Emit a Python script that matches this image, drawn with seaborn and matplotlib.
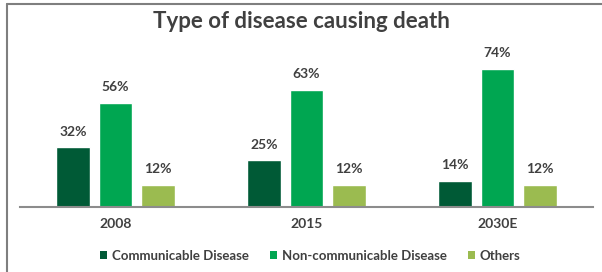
import matplotlib
matplotlib.use('Agg')
import matplotlib.pyplot as plt
from matplotlib.lines import Line2D
from matplotlib.patches import Patch
import seaborn as sns
import pandas as pd

years = ['2008', '2015', '2030E']
diseases = ['Communicable Disease', 'Non-communicable Disease', 'Others']
communicable = [32, 25, 14]
non_communicable = [56, 63, 74]
others = [12, 12, 12]
colors = ['#005A36', '#00A651', '#9BBB50']

df = pd.DataFrame({
    'year': years * 3,
    'disease': [diseases[0]] * 3 + [diseases[1]] * 3 + [diseases[2]] * 3,
    'share': communicable + non_communicable + others,
})

sns.set_style('white')
plt.rcParams['font.family'] = ['Lato', 'DejaVu Sans']
text_color = '#404040'

fig = plt.figure(figsize=(6.02, 2.72), dpi=100)
ax = fig.add_axes([20 / 602, 1 - 207 / 272, 573 / 602, 149 / 272])
sns.barplot(data=df, x='year', y='share', hue='disease', palette=colors,
            width=0.667, gap=0.2, ax=ax, legend=False, saturation=1)

for c in ax.containers:
    ax.bar_label(c, fmt='%d%%', padding=7, fontsize=10, fontweight='bold', color=text_color)

ax.set_xlim(-0.5, 2.5)
ax.set_ylim(0, 80)
ax.set_xlabel('')
ax.set_ylabel('')
ax.set_yticks([])
ax.tick_params(axis='x', length=0, pad=8)
for lbl in ax.get_xticklabels():
    lbl.set_fontweight('bold')
    lbl.set_fontsize(10)
    lbl.set_color(text_color)
sns.despine(ax=ax, left=True)
ax.spines['bottom'].set_color('#8c8c8c')
ax.spines['bottom'].set_linewidth(1.5)

fig.text(0.5, 1 - 21 / 272, 'Type of disease causing death', ha='center', va='center',
         fontsize=16, fontweight='bold', color=text_color)

handles = [Patch(facecolor=col, edgecolor='none') for col in colors]
fig.legend(handles, diseases, loc='center', bbox_to_anchor=(0.515, 1 - 256 / 272), ncol=3,
           frameon=False, handlelength=0.55, handleheight=0.55, handletextpad=0.35,
           columnspacing=1.6, prop={'weight': 'bold', 'size': 9.5}, labelcolor=text_color)

# frame lines (left and top)
fig.add_artist(Line2D([7 / 602, 7 / 602], [0, 1 - 4 / 272], transform=fig.transFigure,
                      color='#7f7f7f', lw=1.5))
fig.add_artist(Line2D([7 / 602, 1], [1 - 4 / 272, 1 - 4 / 272], transform=fig.transFigure,
                      color='#7f7f7f', lw=1.5))

fig.savefig('out.png', dpi=100)
